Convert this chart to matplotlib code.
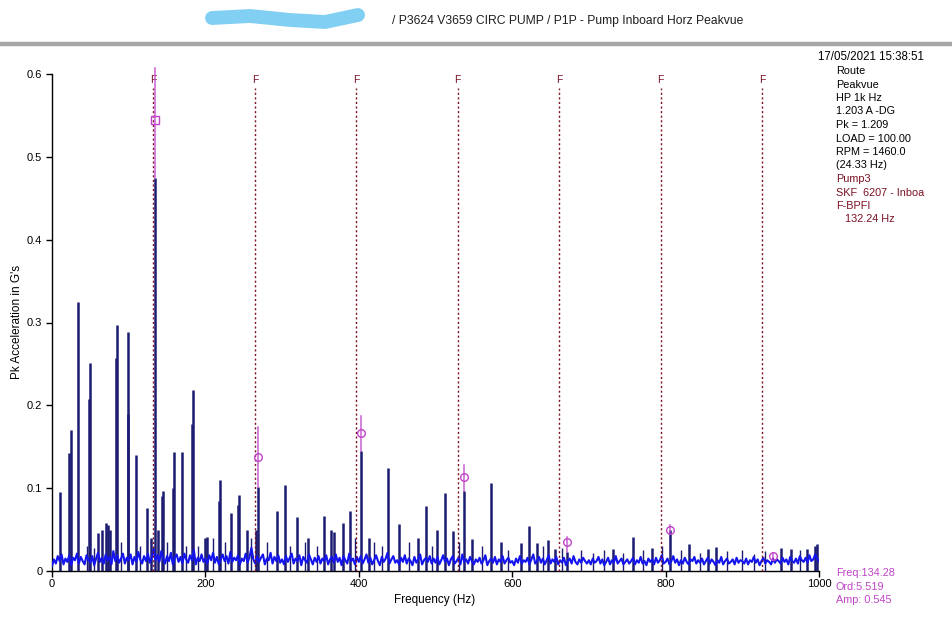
import numpy as np
import matplotlib
matplotlib.use("Agg")
import matplotlib.pyplot as plt
from matplotlib.lines import Line2D

plt.rcParams['font.family'] = ['Liberation Sans', 'DejaVu Sans']

# ---------------- data ----------------
# noise floor of the spectrum, milli-G, one value per 2.5 Hz bin (0..1000 Hz)
noise_mg = [
    6, 14, 9, 18, 12, 20, 8, 15, 11, 19, 7, 16, 13, 21, 9, 17, 12, 8, 19, 14,
    10, 18, 7, 15, 22, 11, 16, 9, 20, 13, 17, 8, 24, 12, 19, 10, 15, 21, 9, 16,
    13, 20, 8, 17, 11, 23, 14, 9, 18, 12, 21, 10, 16, 27, 13, 19, 11, 24, 15, 9,
    18, 12, 22, 8, 16, 20, 11, 17, 9, 21, 14, 10, 19, 13, 25, 8, 16, 12, 20, 11,
    15, 9, 19, 13, 22, 10, 17, 8, 14, 20, 12, 18, 9, 23, 11, 16, 13, 19, 8, 15,
    12, 21, 10, 17, 28, 14, 9, 18, 11, 16, 20, 8, 15, 13, 22, 9, 17, 12, 19, 10,
    14, 8, 18, 11, 16, 21, 9, 15, 12, 19, 7, 17, 13, 10, 20, 14, 8, 16, 11, 18,
    9, 15, 12, 19, 8, 14, 17, 10, 20, 11, 16, 7, 18, 13, 9, 21, 12, 15, 8, 17,
    11, 18, 9, 14, 20, 10, 16, 8, 13, 19, 12, 7, 17, 11, 15, 22, 9, 14, 18, 10,
    13, 8, 16, 11, 19, 9, 15, 12, 7, 17, 10, 14, 20, 8, 13, 16, 11, 18, 9, 15,
    10, 17, 8, 13, 19, 11, 15, 7, 14, 18, 9, 12, 16, 8, 20, 11, 14, 9, 17, 12,
    8, 14, 11, 16, 9, 13, 19, 7, 12, 15, 10, 17, 8, 14, 11, 18, 9, 13, 16, 10,
    12, 7, 15, 10, 18, 9, 13, 11, 16, 8, 14, 20, 9, 12, 17, 10, 15, 8, 13, 19,
    9, 14, 11, 17, 8, 13, 10, 16, 7, 12, 15, 9, 18, 11, 8, 14, 10, 16, 12, 9,
    13, 8, 15, 10, 12, 17, 9, 14, 7, 11, 16, 8, 13, 10, 18, 9, 12, 15, 8, 11,
    14, 9, 12, 16, 8, 13, 10, 17, 9, 12, 7, 15, 11, 14, 8, 16, 10, 13, 19, 9,
    11, 15, 8, 12, 18, 10, 14, 7, 13, 9, 16, 11, 8, 14, 12, 17, 9, 13, 10, 15,
    8, 12, 16, 9, 14, 11, 7, 13, 10, 17, 8, 12, 15, 9, 11, 14, 8, 16, 10, 13,
    12, 9, 15, 8, 13, 11, 17, 10, 14, 7, 12, 16, 9, 13, 11, 8, 15, 10, 14, 12,
    9, 16, 11, 14, 8, 17, 12, 10, 15, 9, 18, 13, 11, 16, 10, 19, 12, 14, 20, 15,
    12,
]
noise_step_hz = 2.5

# discrete spectral peaks (Hz, G)
peak_freq = [10.4, 22.5, 24.3, 34.5, 48.5, 49.8, 60.4, 64.8, 70.4, 73.0, 75.6,
             83.5, 84.5, 98.5, 99.5, 109.0, 124.0, 129.0, 134.3, 138.0, 143.0,
             144.2, 158.0, 159.0, 169.0, 182.5, 183.4, 199.0, 202.5, 218.0,
             219.0, 233.4, 243.0, 244.0, 254.0, 266.5, 268.0, 294.0, 304.0,
             319.0, 334.0, 354.0, 364.0, 368.0, 379.0, 388.5, 403.0, 413.0,
             438.5, 453.0, 477.6, 487.6, 502.0, 512.4, 523.0, 537.0, 547.0,
             572.0, 586.0, 612.0, 622.0, 632.0, 647.0, 656.0, 671.5, 732.0,
             757.0, 782.0, 806.0, 831.0, 855.0, 866.0, 950.0, 964.0, 985.0,
             995.0, 998.0]
peak_amp = [0.095, 0.142, 0.170, 0.325, 0.208, 0.251, 0.046, 0.050, 0.058, 0.055, 0.050,
            0.257, 0.297, 0.190, 0.288, 0.140, 0.076, 0.040, 0.475, 0.050, 0.090,
            0.097, 0.100, 0.144, 0.144, 0.178, 0.219, 0.040, 0.041, 0.085,
            0.110, 0.070, 0.080, 0.092, 0.049, 0.050, 0.102, 0.072, 0.104,
            0.065, 0.040, 0.066, 0.049, 0.047, 0.058, 0.072, 0.145, 0.040,
            0.124, 0.057, 0.040, 0.078, 0.050, 0.094, 0.048, 0.097, 0.039,
            0.106, 0.035, 0.034, 0.054, 0.034, 0.037, 0.027, 0.023, 0.027,
            0.041, 0.028, 0.049, 0.033, 0.027, 0.029, 0.028, 0.026, 0.027,
            0.030, 0.033]

# smaller spikes that rise a little out of the noise floor (Hz, G)
minor_freq = [45, 55, 90, 115, 150, 175, 190, 210, 225, 260, 280, 310, 330,
              345, 395, 420, 430, 465, 495, 530, 560, 595, 640, 665, 690, 705,
              720, 745, 770, 795, 820, 845, 880, 900, 915, 930, 975]
minor_amp = [0.030, 0.028, 0.035, 0.030, 0.035, 0.030, 0.030, 0.040, 0.035,
             0.040, 0.035, 0.030, 0.035, 0.030, 0.040, 0.035, 0.030, 0.035,
             0.030, 0.035, 0.030, 0.025, 0.030, 0.028, 0.025, 0.022, 0.025,
             0.022, 0.025, 0.030, 0.025, 0.022, 0.024, 0.025, 0.020, 0.024,
             0.025]

# bearing fault frequency (BPFI) harmonics
bpfi_hz = 132.24
bpfi_orders = [1, 2, 3, 4, 5, 6, 7]

# cursor harmonic markers (134.28 Hz family)
cursor_hz = 134.28
cursor_orders = [1, 2, 3, 4, 5, 6, 7]
cursor_amp = [0.545, 0.138, 0.167, 0.114, 0.035, 0.050, 0.018]
cursor_top = [0.607, 0.174, 0.187, 0.128, 0.041, 0.055, 0.022]
cursor_bottom = [0.475, 0.102, 0.145, 0.097, 0.023, 0.046, 0.015]

x_ticks = [0, 200, 400, 600, 800, 1000]
y_ticks = [0, 0.1, 0.2, 0.3, 0.4, 0.5, 0.6]
y_tick_labels = ["0", "0.1", "0.2", "0.3", "0.4", "0.5", "0.6"]

title = "/ P3624 V3659 CIRC PUMP / P1P - Pump Inboard Horz Peakvue"
info_black = ["Route", "Peakvue", "HP 1k Hz", "1.203 A -DG", "Pk = 1.209",
              "LOAD = 100.00", "RPM = 1460.0", "(24.33 Hz)"]
info_red = ["Pump3", "SKF  6207 - Inboa", "F-BPFI", "   132.24 Hz"]
cursor_text = ["Freq:134.28", "Ord:5.519", "Amp: 0.545"]
date_text = "17/05/2021 15:38:51"

# ---------------- figure ----------------
W, H = 952, 640
fig = plt.figure(figsize=(W / 100, H / 100), dpi=100)
fig.patch.set_facecolor('white')

def fx(px):
    return px / W

def fy(py):
    return 1 - py / H

ax = fig.add_axes([fx(52), fy(571), fx(819) - fx(52), fy(74) - fy(571)])
ax.set_xlim(0, 1000)
ax.set_ylim(0, 0.6)

NAVY = '#1c1c72'
BLUE = '#1414ee'
MAG = '#c044c8'
DRED = '#7a1022'

# peaks
ax.vlines(peak_freq, 0, peak_amp, colors=NAVY, linewidth=1.8, zorder=3)
ax.vlines(minor_freq, 0, minor_amp, colors=NAVY, linewidth=1.0, zorder=3)

# noise
noise = np.array(noise_mg) / 1000.0
nf = np.arange(len(noise)) * noise_step_hz
ax.plot(nf, noise, color=BLUE, linewidth=1.5, zorder=4)

# BPFI dotted lines with F labels
for n in bpfi_orders:
    f = bpfi_hz * n
    ax.plot([f, f], [0, 0.583], color=DRED, linewidth=1.0,
            linestyle=(0, (1.5, 1.8)), zorder=5, clip_on=False)
    ax.text(f, 0.593, "F", color=DRED, fontsize=7.5, ha='center', va='center',
            clip_on=False)

# cursor markers
for i, n in enumerate(cursor_orders):
    f = cursor_hz * n
    ax.plot([f, f], [cursor_bottom[i], cursor_top[i]], color=MAG,
            linewidth=1.1, alpha=0.85, zorder=6, clip_on=False)
    ax.plot([f], [cursor_amp[i]], marker='s' if n == 1 else 'o',
            markersize=5.5, markerfacecolor='none', markeredgecolor=MAG,
            markeredgewidth=1.0, zorder=7, clip_on=False)

for s in ['top', 'right']:
    ax.spines[s].set_visible(False)
for s in ['left', 'bottom']:
    ax.spines[s].set_color('black')
    ax.spines[s].set_linewidth(1.0)

ax.set_xticks(x_ticks)
ax.set_xticklabels([str(t) for t in x_ticks])
ax.set_yticks(y_ticks)
ax.set_yticklabels(y_tick_labels)
ax.tick_params(axis='both', direction='out', length=4, width=1, labelsize=8,
               colors='black')
ax.tick_params(axis='x', pad=2)
ax.tick_params(axis='y', pad=3)

# axis labels
fig.text(fx(17), fy(322), "Pk Acceleration in G's", rotation=90,
         ha='center', va='center', fontsize=8.5)
fig.text(fx(435), fy(600), "Frequency (Hz)", ha='center', va='center',
         fontsize=8.5)

# header
fig.text(fx(392), fy(21), title, ha='left', va='center', fontsize=8.7,
         color='#202020')
fig.add_artist(Line2D([fx(p) for p in (212, 250, 290, 325, 358)],
                      [fy(p) for p in (18, 16, 20, 22, 15)],
                      color='#82cff4', linewidth=10, solid_capstyle='round',
                      solid_joinstyle='round', transform=fig.transFigure))
fig.add_artist(Line2D([0, 1], [fy(44), fy(44)], color='#a6a6a6', linewidth=3.2,
                      transform=fig.transFigure))

# right info panel
fig.text(fx(818), fy(57), date_text, ha='left', va='center', fontsize=8.3)
y = 71
for t in info_black:
    fig.text(fx(836), fy(y), t, ha='left', va='center', fontsize=7.8,
             color='black')
    y += 13.5
for t in info_red:
    fig.text(fx(836), fy(y), t, ha='left', va='center', fontsize=7.8,
             color=DRED)
    y += 13.5

y = 573
for t in cursor_text:
    fig.text(fx(836), fy(y), t, ha='left', va='center', fontsize=7.8,
             color=MAG)
    y += 13.5

fig.savefig("out.png", dpi=100, facecolor='white')
